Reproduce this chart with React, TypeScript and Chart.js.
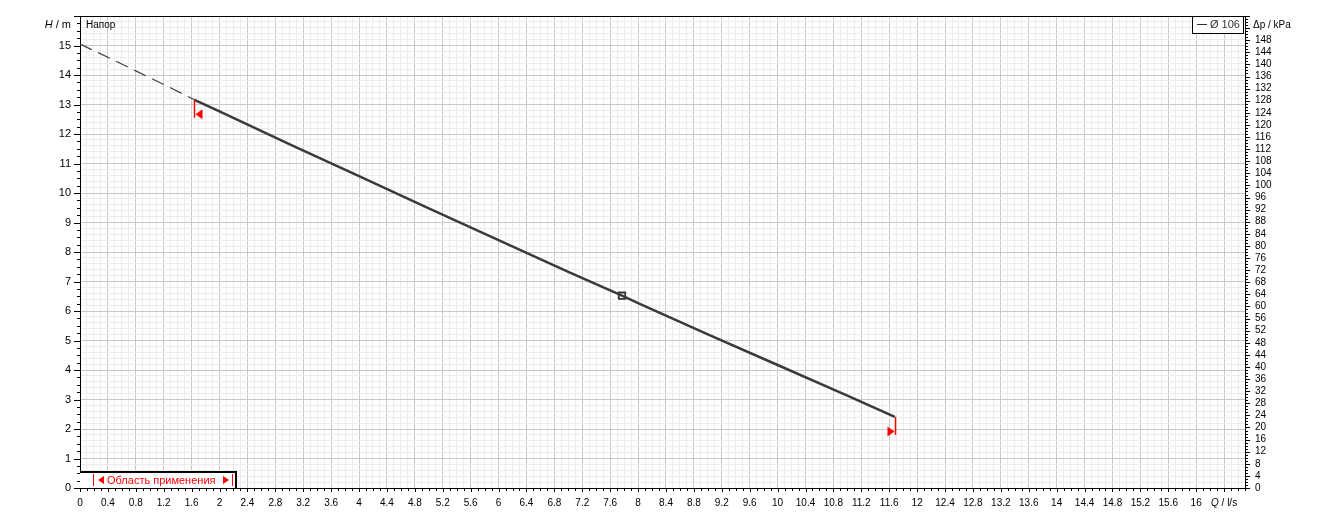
import React, { useEffect, useRef } from "react";
import { Chart, registerables } from "chart.js";

Chart.register(...registerables);

// ---- data ----
const Q_DASHED = [0, 0.4, 0.8, 1.2, 1.64];
const H_DASHED = [15.05, 14.6, 14.14, 13.68, 13.16];
const Q_CURVE = [1.64, 2, 3, 4, 5, 6, 7, 7.77, 8, 9, 10, 11, 11.68];
const H_CURVE = [13.16, 12.77, 11.66, 10.57, 9.48, 8.4, 7.33, 6.52, 6.27, 5.21, 4.17, 3.13, 2.41];
const Q_DUTY = [7.77];
const H_DUTY = [6.52];
const Q_RANGE = [1.64, 11.68];
const H_RANGE = [13.16, 2.41];
const X_MAX = 16.7;
const X_LABEL_MAX = 16;
const Y_MAX = 16;
const KPA_MAX = 156;
const KPA_LABEL_MAX = 148;
const LEGEND_LABEL = "Ø 106";
const CURVE_TITLE = "Напор";
const RANGE_LABEL = "Область применения";

const FONT = "'Liberation Sans', Arial, sans-serif";
const isMult = (v: number, s: number) => Math.abs(v / s - Math.round(v / s)) < 1e-6;
const fmt = (v: number) => String(Math.round(v * 10) / 10);

const decor = {
  id: "decor",
  afterDraw(chart: any) {
    const { ctx, chartArea: a, scales } = chart;
    const xs = scales.x, ys = scales.y, y2 = scales.y2;
    const snap = (p: number) => Math.round(p) + 0.5;
    ctx.save();
    ctx.strokeStyle = "#000";
    ctx.lineWidth = 1;
    // top frame
    ctx.beginPath();
    ctx.moveTo(a.left, snap(a.top));
    ctx.lineTo(a.right, snap(a.top));
    ctx.stroke();
    // x tick marks
    ctx.beginPath();
    for (let i = 0; i <= Math.round(X_MAX * 10); i++) {
      const px = snap(xs.getPixelForValue(i / 10));
      const len = i % 4 === 0 ? 4 : 3;
      ctx.moveTo(px, a.bottom);
      ctx.lineTo(px, a.bottom + len);
    }
    // left tick marks
    for (let i = 0; i <= Y_MAX * 4; i++) {
      const py = snap(ys.getPixelForValue(i / 4));
      const len = i % 4 === 0 ? 6 : 3;
      ctx.moveTo(a.left - len, py);
      ctx.lineTo(a.left, py);
    }
    // right tick marks
    for (let k = 0; k <= KPA_MAX; k++) {
      const py = snap(y2.getPixelForValue(k));
      const len = k % 4 === 0 ? 5 : 3;
      ctx.moveTo(a.right, py);
      ctx.lineTo(a.right + len, py);
    }
    ctx.stroke();

    // axis titles
    ctx.fillStyle = "#000";
    ctx.textBaseline = "middle";
    const titleY = a.top + 9;
    ctx.font = `italic 11px ${FONT}`;
    const hW = ctx.measureText("H").width;
    ctx.font = `11px ${FONT}`;
    const restW = ctx.measureText(" / m").width;
    let tx = a.left - 9 - restW - hW;
    ctx.font = `italic 11px ${FONT}`;
    ctx.textAlign = "left";
    ctx.fillText("H", tx, titleY);
    ctx.font = `11px ${FONT}`;
    ctx.fillText(" / m", tx + hW, titleY);

    ctx.font = `10px ${FONT}`;
    ctx.fillText("Δp / kPa", a.right + 8, titleY);

    const qx = xs.getPixelForValue(16.4);
    const qy = a.bottom + 15;
    ctx.font = `italic 10px ${FONT}`;
    const qW = ctx.measureText("Q").width;
    ctx.font = `10px ${FONT}`;
    const qRest = ctx.measureText(" / l/s").width;
    const qStart = qx - (qW + qRest) / 2;
    ctx.font = `italic 10px ${FONT}`;
    ctx.fillText("Q", qStart, qy);
    ctx.font = `10px ${FONT}`;
    ctx.fillText(" / l/s", qStart + qW, qy);

    // curve title
    ctx.font = `10px ${FONT}`;
    ctx.fillText(CURVE_TITLE, a.left + 6, titleY);

    // legend box
    const lbR = a.right - 2;
    const lbL = lbR - 51;
    ctx.fillStyle = "#fff";
    ctx.fillRect(lbL, a.top, lbR - lbL, 17);
    ctx.strokeStyle = "#000";
    ctx.strokeRect(snap(lbL), snap(a.top), lbR - lbL, 17);
    ctx.strokeStyle = "#333";
    ctx.beginPath();
    ctx.moveTo(lbL + 5, snap(a.top + 8));
    ctx.lineTo(lbL + 15, snap(a.top + 8));
    ctx.stroke();
    ctx.fillStyle = "#333";
    ctx.font = `11px ${FONT}`;
    ctx.fillText(LEGEND_LABEL, lbL + 18, a.top + 9);

    // application range markers
    Q_RANGE.forEach((q, i) => {
      const px = xs.getPixelForValue(q);
      const py = ys.getPixelForValue(H_RANGE[i]);
      const lx = Math.round(px) + 0.5;
      ctx.strokeStyle = "#ff0000";
      ctx.lineWidth = 1.5;
      ctx.beginPath();
      ctx.moveTo(lx, py);
      ctx.lineTo(lx, py + 18);
      ctx.stroke();
      ctx.fillStyle = "#ff0000";
      const cy = py + 14.5;
      ctx.beginPath();
      if (i === 0) {
        ctx.moveTo(lx + 1, cy);
        ctx.lineTo(lx + 8, cy - 5);
        ctx.lineTo(lx + 8, cy + 5);
      } else {
        ctx.moveTo(lx - 1, cy);
        ctx.lineTo(lx - 8, cy - 5);
        ctx.lineTo(lx - 8, cy + 5);
      }
      ctx.closePath();
      ctx.fill();
    });

    // application range box
    const bL = a.left;
    const bR = a.left + 157;
    const bT = a.bottom - 17;
    ctx.fillStyle = "#fff";
    ctx.fillRect(bL, bT, bR - bL, a.bottom - bT);
    ctx.strokeStyle = "#000";
    ctx.lineWidth = 2;
    ctx.beginPath();
    ctx.moveTo(bL, bT + 1);
    ctx.lineTo(bR - 1, bT + 1);
    ctx.lineTo(bR - 1, a.bottom);
    ctx.stroke();
    const ty = bT + 9;
    ctx.fillStyle = "#ff0000";
    ctx.strokeStyle = "#ff0000";
    ctx.lineWidth = 1;
    ctx.beginPath();
    ctx.moveTo(bL + 13.5, ty - 6);
    ctx.lineTo(bL + 13.5, ty + 6);
    ctx.moveTo(bL + 152.5, ty - 6);
    ctx.lineTo(bL + 152.5, ty + 6);
    ctx.stroke();
    ctx.beginPath();
    ctx.moveTo(bL + 18, ty);
    ctx.lineTo(bL + 24, ty - 4);
    ctx.lineTo(bL + 24, ty + 4);
    ctx.closePath();
    ctx.moveTo(bL + 149, ty);
    ctx.lineTo(bL + 143, ty - 4);
    ctx.lineTo(bL + 143, ty + 4);
    ctx.closePath();
    ctx.fill();
    // fit the label between the triangles
    let fs = 12;
    ctx.font = `${fs}px ${FONT}`;
    while (fs > 8 && ctx.measureText(RANGE_LABEL).width > 110) {
      fs -= 0.5;
      ctx.font = `${fs}px ${FONT}`;
    }
    ctx.textAlign = "left";
    ctx.fillText(RANGE_LABEL, bL + 27, ty + 0.5);
    ctx.restore();
  },
};

export default function App() {
  const ref = useRef<HTMLCanvasElement | null>(null);
  useEffect(() => {
    if (!ref.current) return;
    const gridColor = (major: boolean) => (major ? "#c8c8c8" : "#ececec");
    const chart = new Chart(ref.current, {
      type: "line",
      data: {
        datasets: [
          {
            data: Q_DASHED.map((q, i) => ({ x: q, y: H_DASHED[i] })),
            borderColor: "#404040",
            borderWidth: 1.2,
            borderDash: [13, 7],
            pointRadius: 0,
            yAxisID: "y",
          },
          {
            data: Q_CURVE.map((q, i) => ({ x: q, y: H_CURVE[i] })),
            borderColor: "#3a3a3a",
            borderWidth: 2.5,
            pointRadius: 0,
            yAxisID: "y",
          },
          {
            type: "scatter",
            data: Q_DUTY.map((q, i) => ({ x: q, y: H_DUTY[i] })),
            pointStyle: "rect",
            pointRadius: 4.5,
            backgroundColor: "#ffffff",
            borderColor: "#333333",
            borderWidth: 1.8,
            yAxisID: "y",
          } as any,
        ],
      },
      options: {
        responsive: true,
        maintainAspectRatio: false,
        animation: false,
        events: [],
        layout: { padding: { top: 16, left: 0, right: 0, bottom: 0 } },
        plugins: { legend: { display: false }, tooltip: { enabled: false } },
        scales: {
          x: {
            type: "linear",
            min: 0,
            max: X_MAX,
            afterFit: (s: any) => { s.height = 34; },
            border: { color: "#000", width: 1 },
            grid: {
              drawTicks: false,
              color: (c: any) => gridColor(isMult(c.tick.value, 0.4)),
            },
            ticks: {
              stepSize: 0.1,
              autoSkip: false,
              maxRotation: 0,
              padding: 9,
              color: "#000",
              font: { family: FONT, size: 10 },
              callback: (v: any) => (isMult(v, 0.4) && v <= X_LABEL_MAX + 1e-6 ? fmt(v) : ""),
            },
          },
          y: {
            type: "linear",
            position: "left",
            min: 0,
            max: Y_MAX,
            afterFit: (s: any) => { s.width = 80; },
            border: { color: "#000", width: 1 },
            grid: {
              drawTicks: false,
              color: (c: any) => gridColor(isMult(c.tick.value, 1)),
            },
            ticks: {
              stepSize: 0.2,
              autoSkip: false,
              padding: 9,
              color: "#000",
              font: { family: FONT, size: 11 },
              callback: (v: any) => (isMult(v, 1) && v < Y_MAX ? fmt(v) : ""),
            },
          },
          y2: {
            type: "linear",
            position: "right",
            min: 0,
            max: KPA_MAX,
            afterFit: (s: any) => { s.width = 78; },
            border: { color: "#000", width: 1 },
            grid: { drawOnChartArea: false, drawTicks: false },
            ticks: {
              stepSize: 1,
              autoSkip: false,
              padding: 10,
              color: "#000",
              font: { family: FONT, size: 10 },
              callback: (v: any) => (isMult(v, 4) && v <= KPA_LABEL_MAX ? String(v) : ""),
            },
          },
        },
      } as any,
      plugins: [decor],
    });
    return () => chart.destroy();
  }, []);
  return (
    <div style={{ position: "fixed", left: 0, top: 0, width: 1323, height: 522, background: "#fff" }}>
      <canvas ref={ref} />
    </div>
  );
}
